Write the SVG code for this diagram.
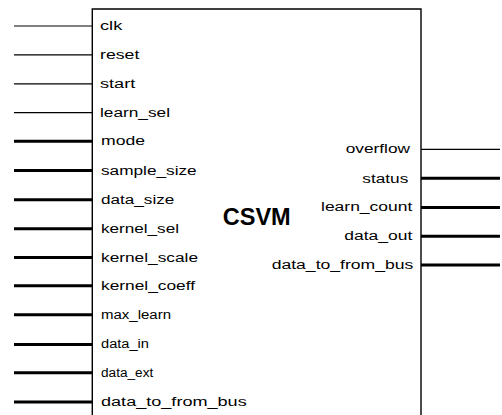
<svg xmlns="http://www.w3.org/2000/svg" width="502" height="415" viewBox="0 0 502 415">
<style>
.thin{stroke:#000;stroke-width:1.2;fill:none}
.thick{stroke:#000;stroke-width:3;fill:none}
.box{stroke:#000;stroke-width:1.4;fill:none}
.lbl{font-family:"Liberation Sans",Arial,sans-serif;font-size:12.5px;fill:#000}
.title{font-family:"Liberation Sans",Arial,sans-serif;font-size:23px;font-weight:bold;fill:#000}
</style>
<rect width="502" height="415" fill="#fff"/>
<g id="CSVM">
<path class="box" d="M92.3,416 V9 H421 V416"/>
<text class="title" x="222.7" y="225" textLength="68" lengthAdjust="spacingAndGlyphs">CSVM</text>
</g>
<g id="connectors">
<line class="thin" x1="14" y1="26" x2="92.3" y2="26"/>
<line class="thin" x1="14" y1="54.9" x2="92.3" y2="54.9"/>
<line class="thin" x1="14" y1="83.8" x2="92.3" y2="83.8"/>
<line class="thin" x1="14" y1="112.7" x2="92.3" y2="112.7"/>
<line class="thick" x1="14" y1="141.2" x2="92.3" y2="141.2"/>
<line class="thick" x1="14" y1="170.5" x2="92.3" y2="170.5"/>
<line class="thick" x1="14" y1="199.8" x2="92.3" y2="199.8"/>
<line class="thick" x1="14" y1="228.8" x2="92.3" y2="228.8"/>
<line class="thick" x1="14" y1="257.6" x2="92.3" y2="257.6"/>
<line class="thick" x1="14" y1="285.8" x2="92.3" y2="285.8"/>
<line class="thick" x1="14" y1="314.8" x2="92.3" y2="314.8"/>
<line class="thick" x1="14" y1="344.5" x2="92.3" y2="344.5"/>
<line class="thick" x1="14" y1="372.8" x2="92.3" y2="372.8"/>
<line class="thick" x1="14" y1="402" x2="92.3" y2="402"/>
<line class="thin" x1="421" y1="149.3" x2="500" y2="149.3"/>
<line class="thick" x1="421" y1="178.3" x2="500" y2="178.3"/>
<line class="thick" x1="421" y1="207.5" x2="500" y2="207.5"/>
<line class="thick" x1="421" y1="236.2" x2="500" y2="236.2"/>
<line class="thick" x1="421" y1="265" x2="500" y2="265"/>
</g>
<g id="inputs">
<text class="lbl" x="100" y="29.5" textLength="22.3" lengthAdjust="spacingAndGlyphs">clk</text>
<text class="lbl" x="100" y="58.5" textLength="39.3" lengthAdjust="spacingAndGlyphs">reset</text>
<text class="lbl" x="100" y="87.5" textLength="35.3" lengthAdjust="spacingAndGlyphs">start</text>
<text class="lbl" x="100" y="116.5" textLength="70" lengthAdjust="spacingAndGlyphs">learn_sel</text>
<text class="lbl" x="101" y="145" textLength="44" lengthAdjust="spacingAndGlyphs">mode</text>
<text class="lbl" x="101" y="174.5" textLength="95.7" lengthAdjust="spacingAndGlyphs">sample_size</text>
<text class="lbl" x="101" y="203.5" textLength="73.3" lengthAdjust="spacingAndGlyphs">data_size</text>
<text class="lbl" x="101" y="232.5" textLength="78" lengthAdjust="spacingAndGlyphs">kernel_sel</text>
<text class="lbl" x="101" y="261.5" textLength="97" lengthAdjust="spacingAndGlyphs">kernel_scale</text>
<text class="lbl" x="101" y="289.5" textLength="94" lengthAdjust="spacingAndGlyphs">kernel_coeff</text>
<text class="lbl" x="101" y="318.5" textLength="70" lengthAdjust="spacingAndGlyphs">max_learn</text>
<text class="lbl" x="101" y="348" textLength="48" lengthAdjust="spacingAndGlyphs">data_in</text>
<text class="lbl" x="101" y="376.5" textLength="52.3" lengthAdjust="spacingAndGlyphs">data_ext</text>
<text class="lbl" x="101" y="405.5" textLength="145.7" lengthAdjust="spacingAndGlyphs">data_to_from_bus</text>
</g>
<g id="outputs">
<text class="lbl" x="345.7" y="153" textLength="64.3" lengthAdjust="spacingAndGlyphs">overflow</text>
<text class="lbl" x="362.3" y="182.5" textLength="46" lengthAdjust="spacingAndGlyphs">status</text>
<text class="lbl" x="321" y="211" textLength="91.3" lengthAdjust="spacingAndGlyphs">learn_count</text>
<text class="lbl" x="344.3" y="240" textLength="68" lengthAdjust="spacingAndGlyphs">data_out</text>
<text class="lbl" x="271.7" y="269" textLength="141.6" lengthAdjust="spacingAndGlyphs">data_to_from_bus</text>
</g>
</svg>
